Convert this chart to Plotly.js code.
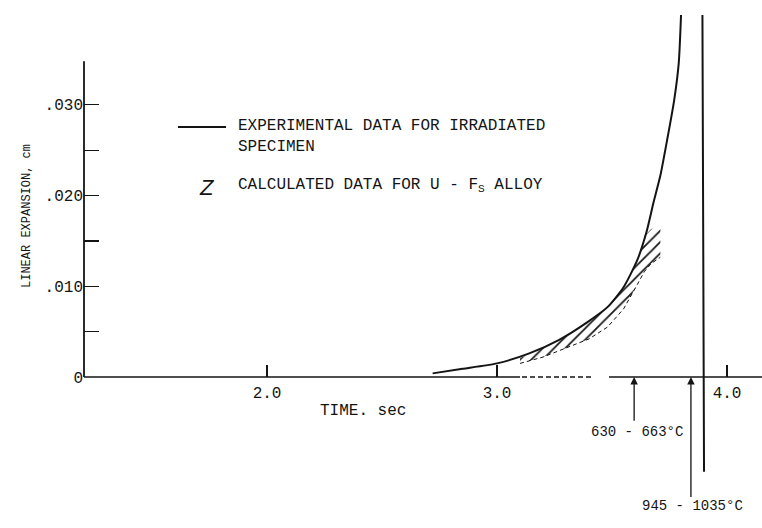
<!DOCTYPE html>
<html>
<head>
<meta charset="utf-8">
<script src="https://cdn.plot.ly/plotly-3.0.1.min.js"></script>
<style>html,body{margin:0;padding:0;background:#fff;}#chart{width:762px;height:528px;}</style>
</head>
<body>
<div id="chart"></div>
<script>
// ---- data ----
const expTime = [2.72, 2.85, 3.00, 3.14, 3.27, 3.39, 3.48, 3.55, 3.61, 3.65, 3.68, 3.71, 3.74, 3.77, 3.79, 3.80];
const expExpansion = [0.0004, 0.0009, 0.0015, 0.0026, 0.0041, 0.0060, 0.0077, 0.0099, 0.0129, 0.0160, 0.0192, 0.0222, 0.0262, 0.0305, 0.0346, 0.0399];

const calcTime = [3.10, 3.20, 3.30, 3.40, 3.48, 3.55, 3.61, 3.64, 3.67, 3.71];
const calcUpper = [0.0021, 0.0032, 0.0045, 0.0062, 0.0077, 0.0098, 0.0128, 0.0155, 0.0163, 0.0166];
const calcLower = [0.0015, 0.0022, 0.0032, 0.0042, 0.0055, 0.0075, 0.0102, 0.0116, 0.0125, 0.0132];

const limitLineTime = [3.893, 3.900];
const limitLineExp = [0.0399, -0.0106];

const arrowTimes = [3.596, 3.843];
const arrowTailExp = [-0.0050, -0.0134];
const arrowHeadCount = [2, 3];
const arrowLabels = ['630 - 663°C', '945 - 1035°C'];

const xTickVals = [2, 3, 4];
const xTickText = ['2.0', '3.0', '4.0'];
const yTickVals = [0, 0.005, 0.010, 0.015, 0.020, 0.025, 0.030];
const yTickText = ['0', '', '.010', '', '.020', '', '.030'];

// ---- layout helpers (page geometry only) ----
const M = {l: 84, r: 0, t: 15, b: 151};
const W = 762, H = 528;
const PW = W - M.l - M.r, PH = H - M.t - M.b;
const px = x => (x - M.l) / PW;
const py = y => (H - M.b - y) / PH;

const FONT = 'Liberation Mono, DejaVu Sans Mono, monospace';
const INK = '#141414';

const traces = [
  {x: calcTime, y: calcLower, mode: 'lines', line: {color: INK, width: 1, dash: '4px,3px'}, hoverinfo: 'skip'},
  {x: calcTime, y: calcUpper, mode: 'lines', line: {color: INK, width: 0}, fill: 'tonexty',
   fillcolor: 'rgba(0,0,0,0)',
   fillpattern: {shape: '/', size: 8, solidity: 0.22, fgcolor: INK, bgcolor: 'rgba(0,0,0,0)'}, hoverinfo: 'skip'},
  {x: expTime, y: expExpansion, mode: 'lines', line: {color: INK, width: 2, shape: 'spline', smoothing: 0.6}, hoverinfo: 'skip'}
];

const annotations = [
  {xref: 'paper', yref: 'paper', x: px(363), y: py(422), text: 'TIME. sec', showarrow: false,
   font: {family: FONT, size: 16, color: INK}},
  {xref: 'paper', yref: 'paper', x: px(18), y: py(216), text: 'LINEAR EXPANSION, cm', textangle: -90, showarrow: false,
   font: {family: FONT, size: 12, color: INK}},
  {xref: 'paper', yref: 'paper', x: px(236), y: py(136), xanchor: 'left', align: 'left',
   text: 'EXPERIMENTAL DATA FOR IRRADIATED<br>SPECIMEN', showarrow: false,
   font: {family: FONT, size: 16, color: INK}},
  {xref: 'paper', yref: 'paper', x: px(236), y: py(185), xanchor: 'left',
   text: 'CALCULATED DATA FOR U - F<sub>S</sub> ALLOY', showarrow: false,
   font: {family: FONT, size: 16, color: INK}},
  {xref: 'paper', yref: 'paper', x: px(197), y: py(187), text: '<i>Z</i>', showarrow: false,
   font: {family: 'Liberation Sans', size: 22, color: INK}},
  // vertical limit line (extends below the axis)
  {x: limitLineTime[0], y: limitLineExp[0], xref: 'x', yref: 'y', axref: 'x', ayref: 'y',
   ax: limitLineTime[1], ay: limitLineExp[1], text: '', showarrow: true, arrowhead: 0, arrowwidth: 2, arrowcolor: INK}
];

// temperature arrows: shaft plus stacked narrow heads
arrowTimes.forEach((t, i) => {
  for (let k = 0; k < arrowHeadCount[i]; k++) {
    annotations.push({x: t, y: -0.0007 * k, xref: 'x', yref: 'y', axref: 'x', ayref: 'y', ax: t, ay: arrowTailExp[i],
      text: '', showarrow: true, arrowhead: 2, arrowsize: 1.15, arrowwidth: 1.3, arrowcolor: INK});
  }
});
annotations.push({xref: 'x', yref: 'paper', x: arrowTimes[0] + 0.012, y: py(442), text: arrowLabels[0], showarrow: false,
  font: {family: FONT, size: 14, color: INK}});
annotations.push({xref: 'x', yref: 'paper', x: arrowTimes[1] + 0.005, y: py(516), text: arrowLabels[1], showarrow: false,
  font: {family: FONT, size: 14, color: INK}});

// x-axis baseline drawn in pieces (solid / dashed / gap / solid) like the original
const baseline = [
  {x0: px(84), x1: px(520), dash: 'solid'},
  {x0: px(522), x1: px(592), dash: '5px,3px'},
  {x0: px(609), x1: px(762), dash: 'solid'}
];

const layout = {
  width: W, height: H, margin: M,
  paper_bgcolor: '#fff', plot_bgcolor: '#fff', showlegend: false,
  xaxis: {range: [1.204, 4.152], showline: false,
    ticks: 'inside', ticklen: 12, tickwidth: 1.2, tickcolor: INK, tickvals: xTickVals, ticktext: xTickText,
    tickfont: {family: FONT, size: 16, color: INK}, ticklabelstandoff: 4, showgrid: false, zeroline: false},
  yaxis: {range: [0, 0.0399], showline: false, ticks: 'inside', ticklen: 15, tickwidth: 1.3, tickcolor: INK,
    tickvals: yTickVals, ticktext: yTickText, tickfont: {family: FONT, size: 16, color: INK},
    showgrid: false, zeroline: false},
  shapes: [
    {type: 'line', xref: 'paper', yref: 'y', x0: 0, x1: 0, y0: 0, y1: 0.0348, line: {color: INK, width: 1.8}},
    {type: 'line', xref: 'paper', yref: 'paper', x0: px(178), x1: px(226), y0: py(127), y1: py(127), line: {color: INK, width: 2}}
  ].concat(baseline.map(s => ({type: 'line', xref: 'paper', yref: 'paper', x0: s.x0, x1: s.x1, y0: 0, y1: 0,
    line: {color: INK, width: 1.5, dash: s.dash}}))),
  annotations: annotations
};

Plotly.newPlot('chart', traces, layout, {staticPlot: true});
</script>
</body>
</html>
